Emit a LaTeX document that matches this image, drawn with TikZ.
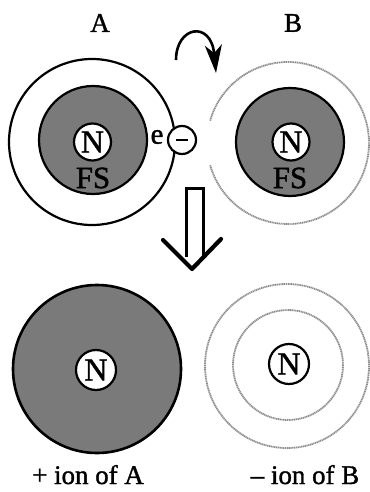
\documentclass[tikz,border=0pt]{standalone}
\usepackage{fontspec}
\setmainfont{Liberation Serif}[BoldFont={Liberation Serif},BoldFeatures={FakeBold=1.3}]
\usetikzlibrary{arrows.meta}
\begin{document}
\begin{tikzpicture}[x=1bp,y=-1bp,
  shell/.style={draw=black,line width=2.2bp,fill=black!52},
  orbit/.style={draw=black,line width=2.2bp},
  fuzzy/.style={draw=black!45,line width=1.8bp,dash pattern=on 1.2bp off 0.6bp},
  nuc/.style={circle,draw=black,line width=2.2bp,fill=white,inner sep=0pt,
    minimum size=37bp,font=\fontsize{32}{34}\selectfont\bfseries},
  lbl/.style={font=\fontsize{27}{29}\selectfont\bfseries,inner sep=0pt},
  big/.style={line width=3bp}]
\useasboundingbox (0,0) rectangle (369,492);

% atom labels
\node[lbl] (labA) at (100,23) {A};
\node[lbl] (labB) at (293,23) {B};

% atom A: orbit, filled shell, nucleus, outer electron
\draw[orbit] (92,142) circle[radius=83];
\draw[shell] (93,140) circle[radius=54];
\node[nuc] (nA) at (92.5,142) {N};
\node[lbl,font=\fontsize{31}{33}\selectfont\bfseries] (fsA) at (93,178) {FS};
\node[lbl,font=\fontsize{29}{31}\selectfont\bfseries] (eA) at (157,137) {e};
\node[circle,draw=black,line width=2.2bp,fill=white,minimum size=28bp,inner sep=0pt] (el) at (182,140) {};
\draw[line width=1.8bp] ([xshift=-6bp]el.center) -- ([xshift=6bp]el.center);

% atom B: open orbit, filled shell, nucleus
\draw[fuzzy] (288,143) ++(-164:81) arc[start angle=-164,end angle=164,radius=81];
\draw[shell] (290,142) circle[radius=54];
\node[nuc] (nB) at (291,142) {N};
\node[lbl,font=\fontsize{31}{33}\selectfont\bfseries] (fsB) at (290,178) {FS};

% electron transfer arrow
\coordinate (tS) at (176,60);
\coordinate (tE) at (216,73);
\draw[line width=2.6bp,-{Stealth[length=28bp,width=17bp,inset=8bp]}]
  (tS) .. controls (176,26) and (211,20) .. (tE);

% hollow down arrow
\coordinate (s1) at (186,257);
\coordinate (s2) at (186,188);
\coordinate (s3) at (203,188);
\coordinate (s4) at (203,257);
\draw[big,line join=miter] (s1) -- (s2) -- (s3) -- (s4);
\coordinate (w1) at (163,240);
\coordinate (tip) at (192,269);
\coordinate (w2) at (221,239);
\draw[line width=4.2bp,line join=round,line cap=round] (w1) -- (tip) -- (w2);

% positive ion of A
\draw[shell,line width=2.6bp] (97,369) circle[radius=84];
\node[nuc,minimum size=40bp] (nA2) at (96,370) {N};

% negative ion of B
\draw[fuzzy] (287,366) circle[radius=82];
\draw[fuzzy] (288,365) circle[radius=55];
\node[nuc,minimum size=40bp] (nB2) at (289,364) {N};

% captions
\node[lbl,anchor=base] (capA) at (88,484) {+ ion of A};
\node[lbl,anchor=base] (capB) at (305,484) {– ion of B};
\end{tikzpicture}
\end{document}
